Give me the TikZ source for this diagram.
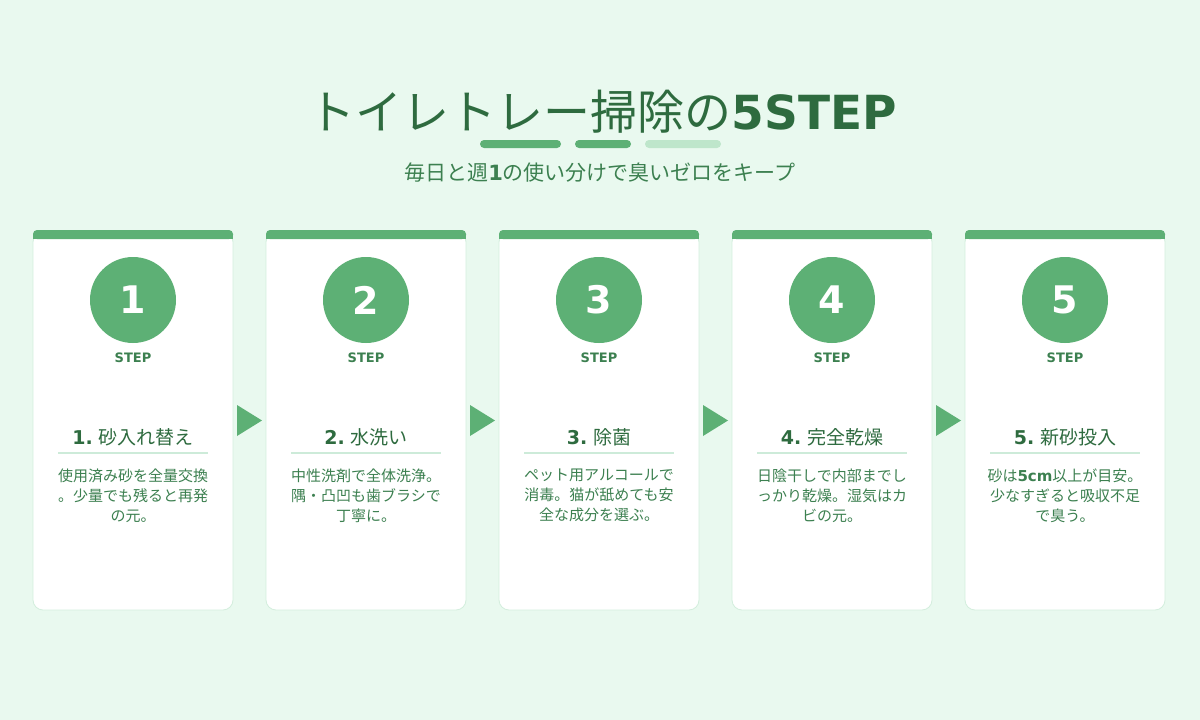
\documentclass[tikz,border=0pt]{standalone}
\usepackage{fontspec}
\setmainfont{Noto Sans CJK JP}
\newfontfamily\dv{DejaVu Sans}
\definecolor{bg}{HTML}{E9F9EF}
\definecolor{grn}{HTML}{5DB075}
\definecolor{dk}{HTML}{2E6B3F}
\definecolor{md}{HTML}{3C8050}
\definecolor{lt}{HTML}{CDEBD9}
\definecolor{pl}{HTML}{BEE6CB}
\definecolor{bd}{HTML}{D3EEDD}
\begin{document}
\begin{tikzpicture}[x=1pt,y=-1pt,
  card/.style={draw=bd,fill=white,rounded corners=10pt,line width=0.8pt},
  num/.style={circle,fill=grn,minimum size=86pt,inner sep=0pt,text=white,font=\fontsize{38}{38}\dv\bfseries},
  steplbl/.style={text=md,font=\fontsize{13}{13}\dv\bfseries},
  ttl/.style={text=dk,font=\fontsize{19}{19}\selectfont},
  desc/.style={text=md,font=\fontsize{15}{20}\selectfont,align=center},
  arr/.style={fill=grn}]
\fill[bg] (0,0) rectangle (1200,720);
\useasboundingbox (0,0) rectangle (1200,720);
\node[text=dk,font=\fontsize{47}{47}\selectfont] (title) at (603,112) {トイレトレー掃除の{\dv\bfseries 5STEP}};
\fill[grn,rounded corners=4pt] (480,140) rectangle (561,148);
\fill[grn,rounded corners=4pt] (575,140) rectangle (631,148);
\fill[pl,rounded corners=4pt] (645,140) rectangle (721,148);
\node[text=md,font=\fontsize{21}{21}\selectfont] (sub) at (600,173) {毎日と週{\dv\bfseries 1}の使い分けで臭いゼロをキープ};
\foreach \i/\t/\d in {
 1/{砂入れ替え}/{使用済み砂を全量交換\\。少量でも残ると再発\\の元。},
 2/{水洗い}/{中性洗剤で全体洗浄。\\隅・凸凹も歯ブラシで\\丁寧に。},
 3/{除菌}/{ペット用アルコールで\\消毒。猫が舐めても安\\全な成分を選ぶ。},
 4/{完全乾燥}/{日陰干しで内部までし\\っかり乾燥。湿気はカ\\ビの元。},
 5/{新砂投入}/{砂は{\dv\bfseries 5cm}以上が目安。\\少なすぎると吸収不足\\で臭う。}}{
 \pgfmathsetmacro\cx{133+233*(\i-1)}
 \draw[card] (\cx-100,232) rectangle (\cx+100,610);
 \fill[grn,rounded corners=4pt] (\cx-100,230) rectangle (\cx+100,239);
 \fill[grn] (\cx-100,235) rectangle (\cx+100,239);
 \node[num] (c\i) at (\cx,300) {\i};
 \node[steplbl] (s\i) at (\cx,358) {STEP};
 \node[ttl] (t\i) at (\cx,437) {{\dv\bfseries\i.} \t};
 \draw[lt,line width=1.5pt] (\cx-75,453) -- (\cx+75,453);
 \node[desc,anchor=north] (d\i) at (\cx,465) {\d};
}
\foreach \i in {1,2,3,4}{
 \pgfmathsetmacro\ax{237+233*(\i-1)}
 \fill[arr] (\ax,405) -- (\ax+25,420.5) -- (\ax,436) -- cycle;
}
\end{tikzpicture}
\end{document}
